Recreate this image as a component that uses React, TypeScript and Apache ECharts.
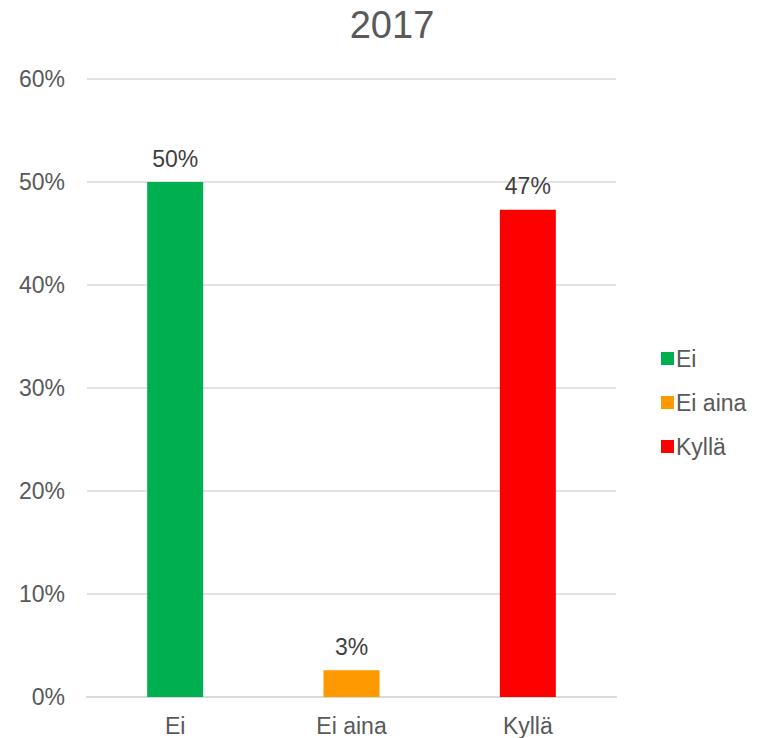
import React, { useEffect, useRef } from "react";
import * as echarts from "echarts";

const categories = ["Ei", "Ei aina", "Kyllä"];
const seriesNames = ["Ei", "Ei aina", "Kyllä"];
const seriesValues = [50.0, 2.6, 47.3];
const seriesColors = ["#00B050", "#FF9900", "#FF0000"];
const yTicks = [0, 10, 20, 30, 40, 50, 60];

const FONT = "'Liberation Sans', Arial, sans-serif";

export default function App() {
  const ref = useRef<HTMLDivElement>(null);
  useEffect(() => {
    document.body.style.margin = "0";
    const chart = echarts.init(ref.current!, null, { renderer: "svg" });
    const series = seriesNames.map((name, i) => ({
      name,
      type: "bar",
      stack: "all",
      barWidth: 56,
      itemStyle: { color: seriesColors[i] },
      data: categories.map((_, j) => (j === i ? seriesValues[i] : "-")),
      label: {
        show: true,
        position: "top",
        distance: 12,
        color: "#404040",
        fontFamily: FONT,
        fontSize: 23,
        formatter: (p: any) => `${Math.round(p.value)}%`,
      },
    }));
    chart.setOption({
      animation: false,
      textStyle: { fontFamily: FONT },
      title: {
        text: "2017",
        left: 387,
        textAlign: "center",
        top: 1,
        textStyle: { color: "#595959", fontSize: 38, fontWeight: "normal", fontFamily: FONT },
      },
      legend: {
        orient: "vertical",
        left: 656,
        top: 342,
        itemWidth: 13,
        itemHeight: 13,
        itemGap: 21,
        icon: "rect",
        textStyle: { color: "#595959", fontSize: 23, fontFamily: FONT, padding: [0, 0, 0, -3] },
        data: seriesNames,
      },
      grid: { left: 87, right: 143, top: 79, bottom: 41, containLabel: false },
      xAxis: {
        type: "category",
        data: categories,
        axisLine: { lineStyle: { color: "#D9D9D9", width: 2 } },
        axisTick: { show: false },
        axisLabel: { color: "#595959", fontSize: 23, fontFamily: FONT, margin: 17 },
      },
      yAxis: {
        type: "value",
        min: yTicks[0],
        max: yTicks[yTicks.length - 1],
        interval: 10,
        axisLine: { show: false },
        axisTick: { show: false },
        splitLine: { lineStyle: { color: "#D9D9D9", width: 1.5 } },
        axisLabel: {
          color: "#595959",
          fontSize: 23,
          fontFamily: FONT,
          margin: 22,
          formatter: (v: number) => `${v}%`,
        },
      },
      series,
    });
    return () => chart.dispose();
  }, []);
  return <div ref={ref} style={{ width: 759, height: 738 }} />;
}
